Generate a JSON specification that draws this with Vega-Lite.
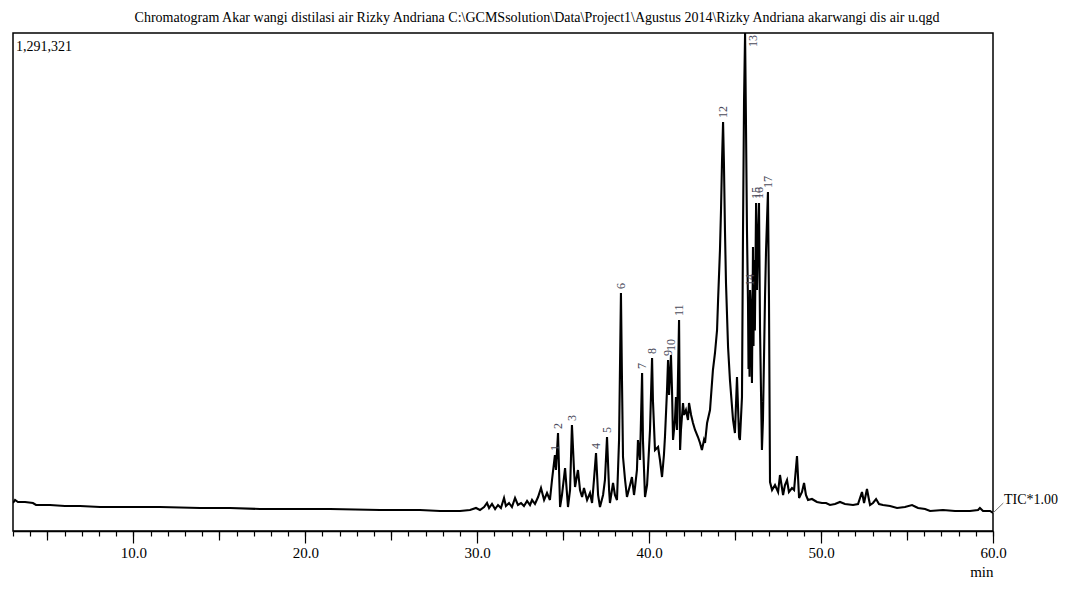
{
  "$schema": "https://vega.github.io/schema/vega-lite/v6.json",
  "width": 980,
  "height": 498,
  "autosize": {"type": "none"},
  "padding": {"left": 13, "top": 33, "right": 77, "bottom": 58},
  "background": "white",
  "title": {
    "text": "Chromatogram Akar wangi distilasi air Rizky Andriana C:\\GCMSsolution\\Data\\Project1\\Agustus 2014\\Rizky Andriana akarwangi dis air u.qgd",
    "font": "Liberation Serif",
    "fontSize": 14,
    "fontWeight": "normal",
    "color": "black",
    "anchor": "middle",
    "dx": 34,
    "offset": 8
  },
  "config": {
    "view": {"stroke": "black", "strokeWidth": 1.5},
    "axis": {"grid": false}
  },
  "datasets": {
    "tic": [
      {"t": 3.00, "i": 72604}, {"t": 3.12, "i": 80383}, {"t": 3.29, "i": 75197}, {"t": 3.70, "i": 75197},
      {"t": 4.16, "i": 72604}, {"t": 4.34, "i": 67418}, {"t": 5.15, "i": 67418}, {"t": 6.02, "i": 64825},
      {"t": 6.90, "i": 64825}, {"t": 8.06, "i": 62232}, {"t": 9.81, "i": 62232}, {"t": 11.55, "i": 62232},
      {"t": 13.88, "i": 59639}, {"t": 15.62, "i": 59639}, {"t": 17.37, "i": 57046}, {"t": 19.11, "i": 57046},
      {"t": 21.44, "i": 57046}, {"t": 24.35, "i": 54453}, {"t": 26.67, "i": 54453}, {"t": 27.84, "i": 51860},
      {"t": 29.00, "i": 51860}, {"t": 29.58, "i": 54453}, {"t": 29.93, "i": 59639}, {"t": 30.16, "i": 54453},
      {"t": 30.40, "i": 62232}, {"t": 30.57, "i": 72604}, {"t": 30.69, "i": 59639}, {"t": 30.86, "i": 70011},
      {"t": 31.04, "i": 57046}, {"t": 31.21, "i": 67418}, {"t": 31.38, "i": 59639}, {"t": 31.56, "i": 85569},
      {"t": 31.67, "i": 64825}, {"t": 31.85, "i": 72604}, {"t": 32.02, "i": 62232}, {"t": 32.20, "i": 85569},
      {"t": 32.37, "i": 67418}, {"t": 32.55, "i": 72604}, {"t": 32.72, "i": 64825}, {"t": 32.90, "i": 77790},
      {"t": 33.07, "i": 67418}, {"t": 33.19, "i": 80383}, {"t": 33.36, "i": 70011}, {"t": 33.54, "i": 88162},
      {"t": 33.71, "i": 111499}, {"t": 33.89, "i": 80383}, {"t": 34.06, "i": 98534}, {"t": 34.23, "i": 80383},
      {"t": 34.35, "i": 132243}, {"t": 34.52, "i": 197068}, {"t": 34.58, "i": 158173}, {"t": 34.70, "i": 254114},
      {"t": 34.82, "i": 62232}, {"t": 34.93, "i": 93348}, {"t": 35.11, "i": 163359}, {"t": 35.28, "i": 62232},
      {"t": 35.40, "i": 106313}, {"t": 35.51, "i": 274858}, {"t": 35.63, "i": 158173}, {"t": 35.69, "i": 114092},
      {"t": 35.86, "i": 158173}, {"t": 35.98, "i": 106313}, {"t": 36.10, "i": 88162}, {"t": 36.21, "i": 111499},
      {"t": 36.39, "i": 80383}, {"t": 36.56, "i": 98534}, {"t": 36.68, "i": 72604}, {"t": 36.79, "i": 132243},
      {"t": 36.91, "i": 202254}, {"t": 37.03, "i": 93348}, {"t": 37.14, "i": 62232}, {"t": 37.32, "i": 93348},
      {"t": 37.43, "i": 132243}, {"t": 37.55, "i": 243742}, {"t": 37.67, "i": 106313}, {"t": 37.72, "i": 72604},
      {"t": 37.90, "i": 124464}, {"t": 38.01, "i": 93348}, {"t": 38.13, "i": 80383}, {"t": 38.25, "i": 235963},
      {"t": 38.36, "i": 617134}, {"t": 38.42, "i": 391543}, {"t": 38.48, "i": 191882}, {"t": 38.60, "i": 132243},
      {"t": 38.71, "i": 88162}, {"t": 38.89, "i": 119278}, {"t": 39.00, "i": 140022}, {"t": 39.12, "i": 93348},
      {"t": 39.18, "i": 114092}, {"t": 39.29, "i": 158173}, {"t": 39.35, "i": 235963}, {"t": 39.47, "i": 184103},
      {"t": 39.59, "i": 409694}, {"t": 39.64, "i": 235963}, {"t": 39.76, "i": 88162}, {"t": 39.88, "i": 119278},
      {"t": 39.93, "i": 158173}, {"t": 40.05, "i": 261893}, {"t": 40.17, "i": 448589}, {"t": 40.22, "i": 339683},
      {"t": 40.34, "i": 210033}, {"t": 40.52, "i": 217812}, {"t": 40.63, "i": 184103}, {"t": 40.75, "i": 140022},
      {"t": 40.86, "i": 197068}, {"t": 40.92, "i": 243742}, {"t": 41.04, "i": 365613}, {"t": 41.10, "i": 443403},
      {"t": 41.16, "i": 352648}, {"t": 41.27, "i": 456368}, {"t": 41.33, "i": 365613}, {"t": 41.39, "i": 235963},
      {"t": 41.50, "i": 287823}, {"t": 41.56, "i": 347462}, {"t": 41.62, "i": 261893}, {"t": 41.74, "i": 547123},
      {"t": 41.80, "i": 210033}, {"t": 41.85, "i": 261893}, {"t": 41.97, "i": 331904}, {"t": 42.03, "i": 300788},
      {"t": 42.14, "i": 313753}, {"t": 42.26, "i": 287823}, {"t": 42.32, "i": 331904}, {"t": 42.44, "i": 300788},
      {"t": 42.55, "i": 280044}, {"t": 42.67, "i": 261893}, {"t": 42.84, "i": 243742}, {"t": 42.96, "i": 228184},
      {"t": 43.07, "i": 210033}, {"t": 43.19, "i": 235963}, {"t": 43.25, "i": 228184}, {"t": 43.37, "i": 280044},
      {"t": 43.54, "i": 313753}, {"t": 43.71, "i": 417473}, {"t": 43.83, "i": 461554}, {"t": 43.95, "i": 521193},
      {"t": 44.01, "i": 598983}, {"t": 44.12, "i": 728633}, {"t": 44.18, "i": 832353}, {"t": 44.24, "i": 962003},
      {"t": 44.30, "i": 1060537}, {"t": 44.35, "i": 954224}, {"t": 44.41, "i": 780493}, {"t": 44.47, "i": 643064},
      {"t": 44.59, "i": 477112}, {"t": 44.70, "i": 391543}, {"t": 44.88, "i": 287823}, {"t": 44.99, "i": 254114},
      {"t": 45.11, "i": 399322}, {"t": 45.23, "i": 243742}, {"t": 45.28, "i": 235963}, {"t": 45.40, "i": 347462},
      {"t": 45.46, "i": 780493}, {"t": 45.52, "i": 1117583}, {"t": 45.58, "i": 1291321}, {"t": 45.63, "i": 1065723},
      {"t": 45.69, "i": 780493}, {"t": 45.75, "i": 591204}, {"t": 45.78, "i": 420000}, {"t": 45.81, "i": 547123},
      {"t": 45.84, "i": 400000}, {"t": 45.87, "i": 624913},
      {"t": 45.92, "i": 573053}, {"t": 45.98, "i": 383764}, {"t": 46.04, "i": 736412}, {"t": 46.07, "i": 480000},
      {"t": 46.10, "i": 702703}, {"t": 46.15, "i": 520000},
      {"t": 46.22, "i": 850504}, {"t": 46.27, "i": 624913}, {"t": 46.33, "i": 754563}, {"t": 46.39, "i": 850504},
      {"t": 46.45, "i": 521193}, {"t": 46.56, "i": 210033}, {"t": 46.62, "i": 287823}, {"t": 46.74, "i": 606762},
      {"t": 46.80, "i": 728633}, {"t": 46.91, "i": 879027}, {"t": 46.97, "i": 598983}, {"t": 47.03, "i": 127057},
      {"t": 47.15, "i": 106313}, {"t": 47.32, "i": 119278}, {"t": 47.50, "i": 101127}, {"t": 47.61, "i": 145208},
      {"t": 47.79, "i": 93348}, {"t": 47.90, "i": 119278}, {"t": 48.02, "i": 132243}, {"t": 48.13, "i": 101127},
      {"t": 48.31, "i": 111499}, {"t": 48.43, "i": 106313}, {"t": 48.60, "i": 194475}, {"t": 48.72, "i": 85569},
      {"t": 48.89, "i": 101127}, {"t": 49.01, "i": 124464}, {"t": 49.12, "i": 93348}, {"t": 49.24, "i": 80383},
      {"t": 49.47, "i": 82976}, {"t": 49.76, "i": 75197}, {"t": 50.05, "i": 72604}, {"t": 50.29, "i": 72604},
      {"t": 50.52, "i": 67418}, {"t": 50.81, "i": 70011}, {"t": 51.10, "i": 75197}, {"t": 51.39, "i": 70011},
      {"t": 51.86, "i": 67418}, {"t": 52.15, "i": 70011}, {"t": 52.38, "i": 101127}, {"t": 52.50, "i": 72604},
      {"t": 52.67, "i": 108906}, {"t": 52.79, "i": 80383}, {"t": 52.85, "i": 67418}, {"t": 53.02, "i": 72604},
      {"t": 53.20, "i": 82976}, {"t": 53.37, "i": 70011}, {"t": 53.60, "i": 67418}, {"t": 54.01, "i": 64825},
      {"t": 54.42, "i": 59639}, {"t": 54.88, "i": 62232}, {"t": 55.29, "i": 67418}, {"t": 55.52, "i": 62232},
      {"t": 55.64, "i": 59639}, {"t": 56.05, "i": 57046}, {"t": 56.34, "i": 51860}, {"t": 57.09, "i": 54453},
      {"t": 57.79, "i": 51860}, {"t": 58.66, "i": 51860}, {"t": 59.13, "i": 54453}, {"t": 59.24, "i": 59639},
      {"t": 59.42, "i": 51860}, {"t": 59.83, "i": 51860}, {"t": 60.00, "i": 46674}
    ],
    "peaks": [
      {"label": "1", "t": 34.52, "i": 197068}, {"label": "2", "t": 34.70, "i": 254114},
      {"label": "3", "t": 35.51, "i": 274858}, {"label": "4", "t": 36.91, "i": 202254},
      {"label": "5", "t": 37.55, "i": 243742}, {"label": "6", "t": 38.36, "i": 617134},
      {"label": "7", "t": 39.59, "i": 409694}, {"label": "8", "t": 40.17, "i": 448589},
      {"label": "9", "t": 41.10, "i": 443403}, {"label": "10", "t": 41.27, "i": 456368},
      {"label": "11", "t": 41.74, "i": 547123}, {"label": "12", "t": 44.30, "i": 1060537},
      {"label": "13", "t": 45.58, "i": 1291321}, {"label": "14", "t": 45.87, "i": 624913},
      {"label": "15", "t": 46.22, "i": 850504}, {"label": "16", "t": 46.39, "i": 850504},
      {"label": "17", "t": 46.91, "i": 879027}
    ],
    "corner": [{"label": "1,291,321", "t": 3, "i": 1291321}],
    "tic_label": [{"label": "TIC*1.00", "t": 60, "i": 80383}],
    "leader": [{"t": 60, "i": 46674, "t2": 60.6, "i2": 72604}]
  },
  "resolve": {"axis": {"x": "independent"}},
  "layer": [
    {
      "data": {"name": "tic"},
      "mark": {"type": "line", "color": "black", "strokeWidth": 2.1, "clip": true},
      "encoding": {
        "x": {
          "field": "t", "type": "quantitative",
          "scale": {"domain": [3, 60], "nice": false, "zero": false},
          "axis": {
            "orient": "bottom", "values": [10, 20, 30, 40, 50, 60], "format": ".1f",
            "tickSize": 12, "tickWidth": 1.2, "tickColor": "black",
            "domainColor": "black", "domainWidth": 1.5,
            "labelFont": "Liberation Serif", "labelFontSize": 15, "labelColor": "black",
            "labelPadding": 2, "labelFlush": false, "labelOverlap": false,
            "title": "min", "titleFont": "Liberation Serif", "titleFontSize": 15,
            "titleFontWeight": "normal", "titleColor": "black",
            "titleAnchor": "end", "titleAlign": "right", "titlePadding": 4
          }
        },
        "y": {
          "field": "i", "type": "quantitative",
          "scale": {"domain": [0, 1291321], "nice": false, "zero": true},
          "axis": null
        }
      }
    },
    {
      "data": {"name": "peaks"},
      "transform": [{"filter": "datum.label != '13'"}],
      "mark": {"type": "text", "angle": 270, "align": "left", "baseline": "middle", "dx": 4,
               "font": "Liberation Serif", "fontSize": 12, "color": "#4a4a5a"},
      "encoding": {
        "x": {"field": "t", "type": "quantitative",
              "axis": {"orient": "bottom", "values": [5, 15, 25, 35, 45, 55], "tickSize": 9,
                       "tickWidth": 1.2, "tickColor": "black", "labels": false, "domain": false, "title": null}},
        "y": {"field": "i", "type": "quantitative", "axis": null},
        "text": {"field": "label"}
      }
    },
    {
      "data": {"name": "peaks"},
      "transform": [{"filter": "datum.label == '13'"}],
      "mark": {"type": "text", "angle": 270, "align": "right", "baseline": "middle", "dx": -2, "dy": 8,
               "font": "Liberation Serif", "fontSize": 12, "color": "#4a4a5a"},
      "encoding": {
        "x": {"field": "t", "type": "quantitative",
              "axis": {"orient": "bottom",
                       "values": [3,4,5,6,7,8,9,10,11,12,13,14,15,16,17,18,19,20,21,22,23,24,25,26,27,28,29,30,31,32,33,34,35,36,37,38,39,40,41,42,43,44,45,46,47,48,49,50,51,52,53,54,55,56,57,58,59,60],
                       "tickSize": 5, "tickWidth": 1.2, "tickColor": "black", "labels": false, "domain": false, "title": null}},
        "y": {"field": "i", "type": "quantitative", "axis": null},
        "text": {"field": "label"}
      }
    },
    {
      "data": {"name": "corner"},
      "mark": {"type": "text", "align": "left", "baseline": "middle", "dx": 3, "dy": 14,
               "font": "Liberation Serif", "fontSize": 14, "color": "black"},
      "encoding": {
        "x": {"field": "t", "type": "quantitative", "axis": null},
        "y": {"field": "i", "type": "quantitative", "axis": null},
        "text": {"field": "label"}
      }
    },
    {
      "data": {"name": "leader"},
      "mark": {"type": "rule", "color": "#777", "strokeWidth": 1, "clip": false},
      "encoding": {
        "x": {"field": "t", "type": "quantitative", "axis": null},
        "x2": {"field": "t2"},
        "y": {"field": "i", "type": "quantitative", "axis": null},
        "y2": {"field": "i2"}
      }
    },
    {
      "data": {"name": "tic_label"},
      "mark": {"type": "text", "align": "left", "baseline": "middle", "dx": 11,
               "font": "Liberation Serif", "fontSize": 14, "color": "black", "clip": false},
      "encoding": {
        "x": {"field": "t", "type": "quantitative", "axis": null},
        "y": {"field": "i", "type": "quantitative", "axis": null},
        "text": {"field": "label"}
      }
    }
  ]
}
